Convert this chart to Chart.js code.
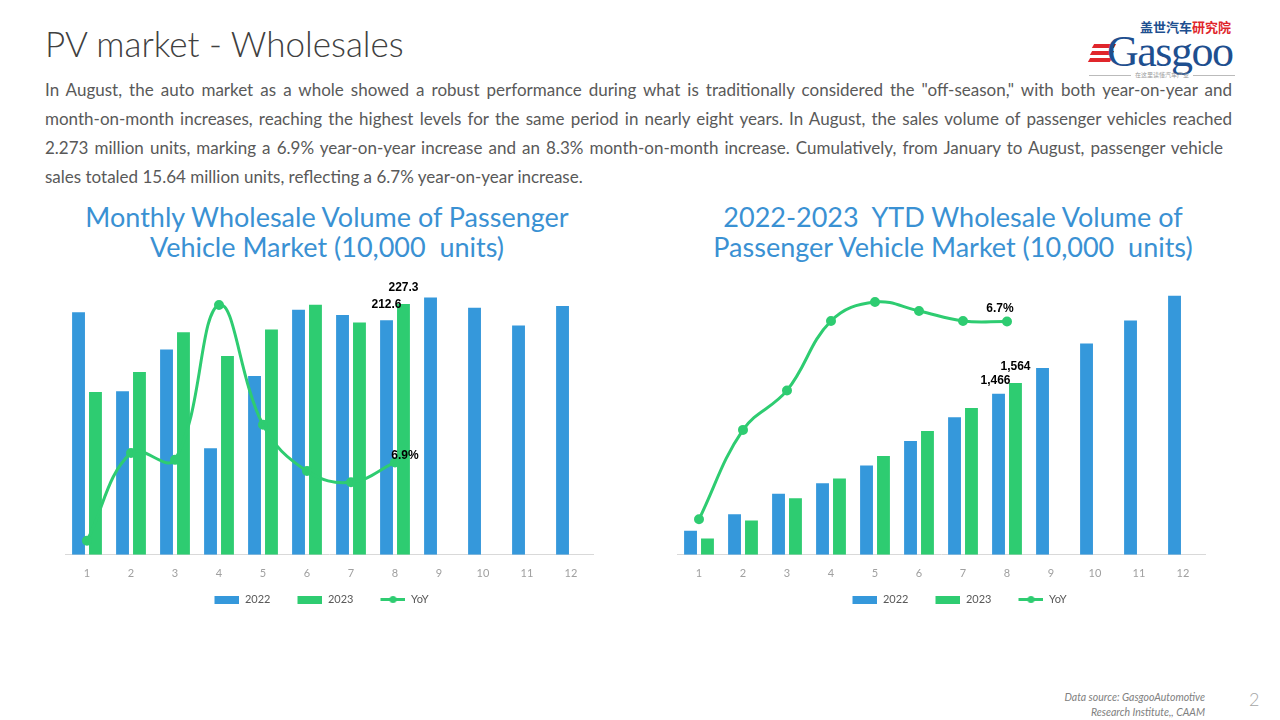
<!DOCTYPE html>
<html>
<head>
<meta charset="utf-8">
<script src="https://cdn.jsdelivr.net/npm/chart.js@4.4.0/dist/chart.umd.min.js"></script>
<style>
  body { margin:0; width:1280px; height:720px; background:#fff; position:relative; overflow:hidden; font-family:Lato, sans-serif; }
  .titulo { position:absolute; left:45px; top:21px; font-size:35px; line-height:44px; font-weight:300; color:#404040; }
  .texto { position:absolute; left:45px; top:75px; font-size:17px; color:#595959; }
  .texto div { height:29px; line-height:29px; white-space:nowrap; }
  .texto .j { text-align:justify; text-align-last:justify; width:1187px; }
  .subtitulo { position:absolute; width:640px; text-align:center; font-size:27px; line-height:30px; color:#3a91d3; white-space:pre; }
  .lienzo { position:absolute; top:265px; width:640px; height:350px; }
  .fuente { position:absolute; right:75px; top:690px; text-align:right; font-size:10.5px; line-height:15px; font-style:italic; color:#808080; }
  .pagina { position:absolute; left:1249px; top:688px; font-size:18px; font-weight:300; color:#a6a6a6; }
  .logo { position:absolute; left:1085px; top:14px; width:152px; height:66px; }
  .logo .cn { position:absolute; left:55px; top:5px; font-family:"Noto Sans CJK SC"; font-weight:bold; font-size:13px; line-height:16px; white-space:nowrap; color:#1e4f8f; }
  .logo .cn span { color:#e0262b; }
  .logo .en { position:absolute; left:22px; top:22px; font-family:"Liberation Serif", serif; font-size:44px; line-height:32px; color:#1e4f8f; letter-spacing:-1.5px; white-space:nowrap; }
  .logo .raya { position:absolute; height:4px; background:#e0262b; transform:skewX(-30deg); }
  .logo .lema { position:absolute; left:0; top:57px; width:152px; text-align:center; font-family:"Noto Sans CJK SC"; font-size:6px; line-height:8px; color:#999; white-space:nowrap; }
  .logo .lema:before, .logo .lema:after { content:""; display:inline-block; width:42px; border-top:1px solid #bbb; vertical-align:middle; margin:0 4px; }
</style>
</head>
<body>

<div class="titulo">PV market - Wholesales</div>

<div class="logo">
  <div class="cn">盖世汽车<span>研究院</span></div>
  <div class="raya" style="left:8px; top:30px; width:22px;"></div>
  <div class="raya" style="left:6px; top:37px; width:22px;"></div>
  <div class="raya" style="left:4px; top:44px; width:22px;"></div>
  <div class="en">Gasgoo</div>
  <div class="lema">在这里读懂汽车产业</div>
</div>

<div class="texto">
  <div class="j">In August, the auto market as a whole showed a robust performance during what is traditionally considered the "off-season," with both year-on-year and</div>
  <div class="j">month-on-month increases, reaching the highest levels for the same period in nearly eight years. In August, the sales volume of passenger vehicles reached</div>
  <div class="j" style="width:1178px">2.273 million units, marking a 6.9% year-on-year increase and an 8.3% month-on-month increase. Cumulatively, from January to August, passenger vehicle</div>
  <div>sales totaled 15.64 million units, reflecting a 6.7% year-on-year increase.</div>
</div>

<div class="subtitulo" style="left:7px; top:202px;">Monthly Wholesale Volume of Passenger
Vehicle Market (10,000  units)</div>
<div class="subtitulo" style="left:633px; top:202px;">2022-2023  YTD Wholesale Volume of
Passenger Vehicle Market (10,000  units)</div>

<div class="lienzo" style="left:0;"><canvas id="graficoMensual" width="640" height="350"></canvas></div>
<div class="lienzo" style="left:640px;"><canvas id="graficoAcumulado" width="640" height="350"></canvas></div>

<div class="fuente">Data source: GasgooAutomotive<br>Research Institute,, CAAM</div>
<div class="pagina">2</div>

<script>
// datos (10,000 unidades)
const meses = ['1', '2', '3', '4', '5', '6', '7', '8', '9', '10', '11', '12'];
const mensual2022 = [219.9, 148.2, 186.2, 96.5, 162.1, 222.1, 217.4, 212.6, 233.2, 223.9, 207.9, 225.6];
const mensual2023 = [147.5, 165.6, 201.7, 180.2, 204.2, 226.6, 210.6, 227.3];
const mensualYoY = [-32.9, 11.7, 8.2, 86.8, 26.0, 2.5, -3.2, 6.9];
const acumulado2022 = [219.9, 368.1, 554.3, 650.8, 812.9, 1035.0, 1252.4, 1466.0, 1699.2, 1923.1, 2131.0, 2356.6];
const acumulado2023 = [147.5, 313.1, 514.8, 695.0, 899.2, 1125.8, 1336.4, 1564.0];
const acumuladoYoY = [-32.9, -15.0, -7.1, 6.8, 10.6, 8.8, 6.8, 6.7];

const azul = '#3598db';
const verde = '#2ecc71';

// iconos de la leyenda (barra y linea con punto), con hueco a la izquierda
const hueco = 17;
function icono(tipo, color) {
  const c = document.createElement('canvas');
  c.width = 25 + hueco; c.height = 9;
  const g = c.getContext('2d');
  g.fillStyle = color;
  if (tipo === 'barra') {
    g.fillRect(hueco, 1, 25, 8);
  } else {
    g.fillRect(hueco, 3, 25, 3);
    g.beginPath(); g.arc(hueco + 12.5, 4.5, 3.5, 0, Math.PI * 2); g.fill();
  }
  return c;
}
const iconos = [icono('barra', azul), icono('barra', verde), icono('linea', verde)];

// etiquetas de valor sobre algunos puntos
function etiquetas(lista) {
  return {
    id: 'etiquetas',
    afterDatasetsDraw(chart) {
      const ctx = chart.ctx;
      ctx.save();
      ctx.font = 'bold 12px "Liberation Sans"';
      ctx.fillStyle = '#000';
      ctx.textAlign = 'center';
      ctx.textBaseline = 'middle';
      lista.forEach(e => {
        const el = chart.getDatasetMeta(e.ds).data[e.idx];
        const v = chart.data.datasets[e.ds].data[e.idx];
        ctx.fillText(e.fmt(v), el.x + e.dx, el.y + e.dy);
      });
      ctx.restore();
    }
  };
}

// eje invisible que solo reserva un ancho fijo
function ejeOculto(pos, min, max, ancho) {
  return {
    position: pos, min: min, max: max,
    grid: { display: false },
    border: { display: false },
    ticks: { display: false },
    afterFit: s => { s.width = ancho; }
  };
}

function grafico(id, barras1, barras2, yoy, maxY, minYoY, maxYoY, padding, anchoIzq, anchoDer, lista) {
  const ctx = document.getElementById(id);
  new Chart(ctx, {
    type: 'bar',
    data: {
      labels: meses,
      datasets: [
        { label: '2022', data: barras1, backgroundColor: azul, order: 1,
          categoryPercentage: 0.77, barPercentage: 0.76 },
        { label: '2023', data: barras2, backgroundColor: verde, order: 1,
          categoryPercentage: 0.77, barPercentage: 0.76 },
        { type: 'line', label: 'YoY', data: yoy, yAxisID: 'y1', order: 0,
          borderColor: verde, backgroundColor: verde, borderWidth: 3,
          pointRadius: 3.5, pointHoverRadius: 3.5, tension: 0.4 }
      ]
    },
    options: {
      responsive: false,
      animation: false,
      layout: { padding: padding },
      scales: {
        x: {
          grid: { display: false },
          border: { color: '#d9d9d9' },
          ticks: { color: '#a0a0a0', font: { family: 'Lato', size: 11 }, padding: 4, maxRotation: 0, autoSkip: false }
        },
        y: ejeOculto('left', 0, maxY, anchoIzq),
        y1: ejeOculto('right', minYoY, maxYoY, anchoDer)
      },
      plugins: {
        tooltip: { enabled: false },
        legend: {
          position: 'bottom',
          labels: {
            usePointStyle: true,
            pointStyleWidth: 25 + hueco,
            boxHeight: 8,
            padding: 10,
            color: '#595959',
            font: { family: 'Lato', size: 11 },
            sort: (a, b) => a.datasetIndex - b.datasetIndex,
            generateLabels: function (chart) {
              const items = Chart.defaults.plugins.legend.labels.generateLabels(chart);
              items.forEach(it => { it.pointStyle = iconos[it.datasetIndex]; });
              return items;
            }
          }
        }
      }
    },
    plugins: [etiquetas(lista)]
  });
}

const uno = v => v.toFixed(1);
const miles = v => Math.round(v).toLocaleString('en-US');
const pct = v => v + '%';

grafico('graficoMensual', mensual2022, mensual2023, mensualYoY, 250, -40, 100,
  { left: 5, right: 19, top: 14, bottom: 0 }, 60, 28,
  [ { ds: 0, idx: 7, dx: 0, dy: -16, fmt: uno },
    { ds: 1, idx: 7, dx: 0, dy: -16, fmt: uno },
    { ds: 2, idx: 7, dx: 10, dy: -7, fmt: pct } ]);

grafico('graficoAcumulado', acumulado2022, acumulado2023, acumuladoYoY, 2500, -40, 15,
  { left: 5, right: 23, top: 15, bottom: 0 }, 32, 52,
  [ { ds: 0, idx: 7, dx: -3, dy: -13, fmt: miles },
    { ds: 1, idx: 7, dx: 0, dy: -16, fmt: miles },
    { ds: 2, idx: 7, dx: -7, dy: -13, fmt: pct } ]);
</script>
</body>
</html>
